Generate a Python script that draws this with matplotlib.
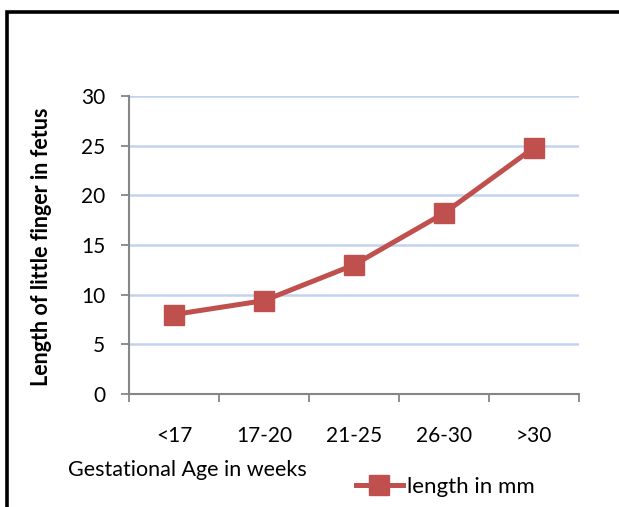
import matplotlib
matplotlib.use("Agg")
import matplotlib.pyplot as plt
from matplotlib.patches import Rectangle

# data
age_groups = ["<17", "17-20", "21-25", "26-30", ">30"]
finger_length = [8.0, 9.4, 13.0, 18.2, 24.8]
y_ticks = [0, 5, 10, 15, 20, 25, 30]

plt.rcParams["font.family"] = ["Lato", "DejaVu Sans"]

RED = "#c0504d"
GRID = "#c3d3ee"
AXIS = "#868686"

fig = plt.figure(figsize=(6.19, 5.07), dpi=100)
ax = fig.add_axes([129 / 619, 1 - 394 / 507, 450 / 619, 298 / 507])

x = list(range(len(age_groups)))
ax.plot(x, finger_length, color=RED, lw=3.6, marker="s", ms=14,
        markeredgecolor=RED, label="length in mm", zorder=3, clip_on=False)

ax.set_xlim(-0.5, len(age_groups) - 0.5)
ax.set_ylim(0, 30)
ax.set_yticks(y_ticks)
ax.set_yticklabels([str(v) for v in y_ticks], fontsize=15)
ax.yaxis.grid(True, color=GRID, lw=1.8)
ax.set_axisbelow(True)

# category boundaries as ticks, labels in between
ax.set_xticks([i - 0.5 for i in range(len(age_groups) + 1)])
ax.set_xticklabels([])
ax.set_xticks(x, minor=True)
ax.set_xticklabels(age_groups, minor=True, fontsize=15)
ax.tick_params(axis="x", which="major", length=6, color=AXIS, width=1.3)
ax.tick_params(axis="x", which="minor", length=0, pad=23)
ax.tick_params(axis="y", length=6, color=AXIS, width=1.3, pad=11)

for side in ("top", "right"):
    ax.spines[side].set_visible(False)
for side in ("left", "bottom"):
    ax.spines[side].set_color(AXIS)
    ax.spines[side].set_linewidth(1.5)

fig.text(42 / 619, 1 - 247 / 507, "Length of little finger in fetus",
         rotation=90, ha="center", va="center", fontsize=15.5, fontweight="bold")
fig.text(68 / 619, 1 - 470 / 507, "Gestational Age in weeks",
         ha="left", va="center", fontsize=15.5)

fig.legend(loc="center left", bbox_to_anchor=(356 / 619, 1 - 487 / 507),
           frameon=False, fontsize=16, handlelength=2.1, handletextpad=0.2,
           borderpad=0, borderaxespad=0)

# outer frame, only left and top edges show in the crop
fig.patches.append(Rectangle((7 / 619, -0.1), 1.2, 1.1 - 11.5 / 507,
                             transform=fig.transFigure, fill=False,
                             edgecolor="black", lw=2.6))

fig.savefig("out.png", dpi=100)
